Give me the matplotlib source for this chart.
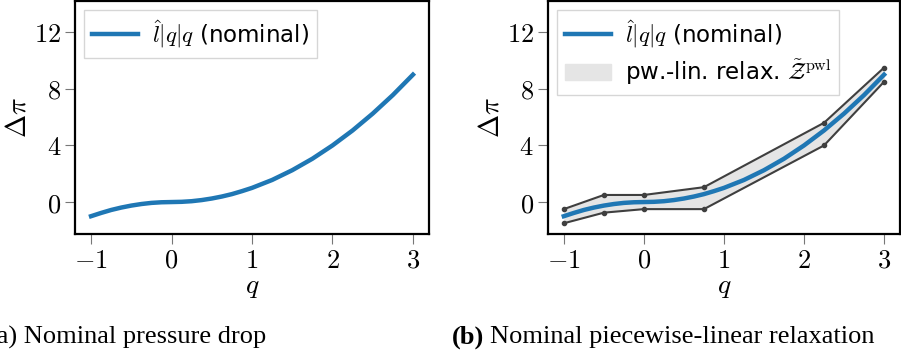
import matplotlib
matplotlib.use("Agg")
import matplotlib.pyplot as plt
from matplotlib.patches import Patch

plt.rcParams["mathtext.fontset"] = "cm"
plt.rcParams["font.family"] = ["DejaVu Sans"]

# nominal curve
q_nom = [-1, -0.875, -0.75, -0.625, -0.5, -0.375, -0.25, -0.125, 0, 0.125, 0.25, 0.375,
         0.5, 0.625, 0.75, 0.875, 1, 1.25, 1.5, 1.75, 2, 2.25, 2.5, 2.75, 3]
dp_nom = [-1, -0.77, -0.56, -0.39, -0.25, -0.14, -0.06, -0.016, 0, 0.016, 0.06, 0.14,
          0.25, 0.39, 0.56, 0.77, 1, 1.56, 2.25, 3.06, 4, 5.06, 6.25, 7.56, 9]

# piecewise-linear relaxation bounds
q_pwl = [-1, -0.5, 0, 0.75, 2.25, 3]
upper = [-0.5, 0.5, 0.5, 1.05, 5.6, 9.5]
lower = [-1.5, -0.75, -0.5, -0.5, 4.0, 8.5]

xticks = [-1, 0, 1, 2, 3]
yticks = [0, 4, 8, 12]
xticklabels = [r"$-1$", r"$0$", r"$1$", r"$2$", r"$3$"]
yticklabels = [r"$0$", r"$4$", r"$8$", r"$12$"]

blue = "#1f77b4"
grey = "#e5e5e5"
dark = "#3f3f3f"

fig = plt.figure(figsize=(9.01, 3.56), dpi=100)
ax1 = fig.add_axes([0.0832, 0.343, 0.393, 0.654])
ax2 = fig.add_axes([0.608, 0.343, 0.391, 0.654])

nom_label = r"$\hat{l}|q|q$ (nominal)"
for ax in (ax1, ax2):
    ax.set_xlim(-1.2, 3.2)
    ax.set_ylim(-2.25, 14.2)
    ax.set_xticks(xticks)
    ax.set_xticklabels(xticklabels, fontsize=19)
    ax.set_yticks(yticks)
    ax.set_yticklabels(yticklabels, fontsize=19)
    ax.tick_params(length=7, width=0.8, color="#777777", pad=3)
    for s in ax.spines.values():
        s.set_linewidth(1.6)
    ax.set_xlabel(r"$q$", fontsize=20, labelpad=-1)
    ax.set_ylabel(r"$\Delta\pi$", fontsize=20, labelpad=2)

ax1.plot(q_nom, dp_nom, color=blue, lw=3.2, label=nom_label)
ax1.legend(loc="upper left", fontsize=16.5, frameon=True, fancybox=False,
           edgecolor="#cccccc", handlelength=2.0, borderaxespad=0.4,
           borderpad=0.35, handletextpad=0.6)

ax2.fill_between(q_pwl, lower, upper, color=grey, lw=0)
ax2.plot(q_pwl, upper, color=dark, lw=1.5, marker="o", ms=3)
ax2.plot(q_pwl, lower, color=dark, lw=1.5, marker="o", ms=3)
ax2.plot(q_nom, dp_nom, color=blue, lw=3.2)
handles = [plt.Line2D([], [], color=blue, lw=3.2), Patch(color=grey)]
labels = [nom_label, r"pw.-lin. relax. $\tilde{\mathcal{Z}}^{\mathrm{pwl}}$"]
ax2.legend(handles, labels, loc="upper left", fontsize=16.5, frameon=True,
           fancybox=False, edgecolor="#cccccc", handlelength=2.0,
           borderaxespad=0.4, borderpad=0.35, handletextpad=0.6,
           labelspacing=0.35)

cap_y = 1 - 337 / 356
fig.text(-0.013, cap_y, "(a) Nominal pressure drop", fontsize=19,
         family="Liberation Serif", ha="left", va="center")
tb = fig.text(452 / 901, cap_y, "(b)", fontsize=19, family="Liberation Serif",
              weight="bold", ha="left", va="center")
r = fig.canvas.get_renderer()
x_end = tb.get_window_extent(r).x1 / 901
fig.text(x_end + 0.006, cap_y, "Nominal piecewise-linear relaxation", fontsize=19,
         family="Liberation Serif", ha="left", va="center")

fig.savefig("out.png", dpi=100)
